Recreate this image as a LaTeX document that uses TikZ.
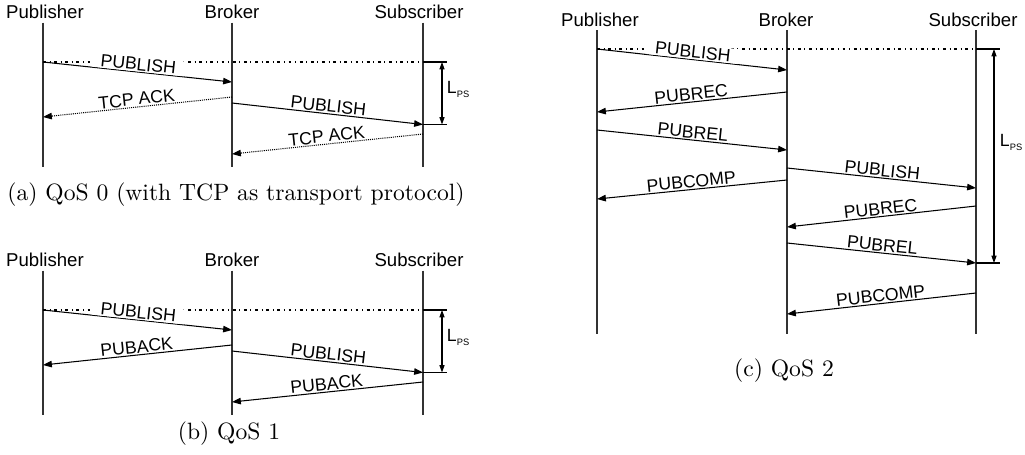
\documentclass[tikz,border=0pt]{standalone}
\usepackage{fontspec}
\newfontfamily\arialf{Liberation Sans}
\usetikzlibrary{arrows.meta}
\tikzset{
  life/.style={line width=0.45pt, black!80},
  msg/.style={line width=0.45pt, -{Triangle[length=3.8pt,width=2.8pt]}},
  ackmsg/.style={msg, dash pattern=on 0.45pt off 0.45pt},
  lbl/.style={font=\arialf\fontsize{7.6}{8}\selectfont, inner sep=0.5pt},
  firstlbl/.style={lbl, fill=white, inner xsep=3.5pt, inner ysep=0.5pt},
  role/.style={font=\arialf\fontsize{8}{9}\selectfont, anchor=base, inner sep=0pt},
  refline/.style={line width=0.45pt, dash pattern=on 1.2pt off 1.6pt on 0.4pt off 1.6pt},
  tickline/.style={line width=0.45pt},
  lat/.style={line width=0.45pt, {Triangle[length=3.2pt,width=2.2pt]}-{Triangle[length=3.2pt,width=2.2pt]}},
  captext/.style={font=\fontsize{10.15}{12}\selectfont, inner sep=0pt},
  lps/.style={font=\arialf\fontsize{7.6}{8}\selectfont, inner sep=0pt, anchor=base west}
}
\newcommand\lpstext{L\raisebox{-2pt}{\fontsize{4}{4}\selectfont PS}}
\newcommand\qospanel[4]{%
\begin{scope}[shift={(0,-#2)}]
 \node[role] (#1P) at (45,-18.5) {Publisher};
 \node[role] (#1B) at (232,-18.5) {Broker};
 \node[role] (#1S) at (419,-18.5) {Subscriber};
 \coordinate (#1Pt) at (43,-22.5); \coordinate (#1Pb) at (43,-167);
 \coordinate (#1Bt) at (232,-22.5); \coordinate (#1Bb) at (232,-167);
 \coordinate (#1St) at (423,-22.5); \coordinate (#1Sb) at (423,-167);
 \draw[life] (#1Pt) -- (#1Pb);
 \draw[life] (#1Bt) -- (#1Bb);
 \draw[life] (#1St) -- (#1Sb);
 \coordinate (#1m1s) at (43,-62);   \coordinate (#1m1e) at (232,-82);
 \coordinate (#1m2s) at (232,-97);  \coordinate (#1m2e) at (43,-117);
 \coordinate (#1m3s) at (232,-103); \coordinate (#1m3e) at (423,-124.5);
 \coordinate (#1m4s) at (423,-134); \coordinate (#1m4e) at (232,-154);
 \coordinate (#1ref) at (423,-62);  \coordinate (#1t1) at (447,-62);
 \coordinate (#1t2) at (447,-124.5);
 \coordinate (#1lt) at (442,-62);   \coordinate (#1lb) at (442,-124.5);
 \draw[refline] (#1m1s) -- (#1ref);
 \draw[tickline] (#1ref) -- (#1t1);
 \draw[tickline] (#1m3e) -- (#1t2);
 \draw[lat] (#1lt) -- (#1lb);
 \node[lps] (#1L) at (446.5,-93) {\lpstext};
 \draw[msg] (#1m1s) -- node[firstlbl, sloped, above] (#1l1) {PUBLISH} (#1m1e);
 \draw[#4] (#1m2s) -- node[lbl, sloped, above] (#1l2) {#3} (#1m2e);
 \draw[msg] (#1m3s) -- node[lbl, sloped, above] (#1l3) {PUBLISH} (#1m3e);
 \draw[#4] (#1m4s) -- node[lbl, sloped, above] (#1l4) {#3} (#1m4e);
\end{scope}}
\begin{document}
\begin{tikzpicture}[x=0.43pt,y=0.43pt]
\useasboundingbox (0,0) rectangle (1025,-454);
\qospanel{a}{0}{TCP ACK}{ackmsg}
\qospanel{b}{248}{PUBACK}{msg}
\node[captext] (capa) at (236,-195) {(a) QoS 0 (with TCP as transport protocol)};
\node[captext] (capb) at (229,-434) {(b) QoS 1};
% panel c
\node[role] (cP) at (600,-26) {Publisher};
\node[role] (cB) at (786,-26) {Broker};
\node[role] (cS) at (973,-26) {Subscriber};
\coordinate (cPt) at (597,-30); \coordinate (cPb) at (597,-334);
\coordinate (cBt) at (787,-30); \coordinate (cBb) at (787,-334);
\coordinate (cSt) at (976,-30); \coordinate (cSb) at (976,-334);
\draw[life] (cPt) -- (cPb);
\draw[life] (cBt) -- (cBb);
\draw[life] (cSt) -- (cSb);
\coordinate (c1s) at (597,-49);  \coordinate (c1e) at (787,-70);
\coordinate (c2s) at (787,-92);  \coordinate (c2e) at (597,-112);
\coordinate (c3s) at (597,-130); \coordinate (c3e) at (787,-150);
\coordinate (c4s) at (787,-168); \coordinate (c4e) at (976,-188);
\coordinate (c5s) at (787,-180); \coordinate (c5e) at (597,-199);
\coordinate (c6s) at (976,-206); \coordinate (c6e) at (787,-227);
\coordinate (c7s) at (787,-243); \coordinate (c7e) at (976,-263);
\coordinate (c8s) at (976,-293); \coordinate (c8e) at (787,-314);
\coordinate (cref) at (976,-49); \coordinate (ct1) at (1000,-49);
\coordinate (ct2) at (1000,-263);
\coordinate (clt) at (994,-49); \coordinate (clb) at (994,-263);
\draw[refline] (c1s) -- (cref);
\draw[tickline] (cref) -- (ct1);
\draw[tickline] (c7e) -- (ct2);
\draw[lat] (clt) -- (clb);
\node[lps] (cL) at (999.5,-146) {\lpstext};
\draw[msg] (c1s) -- node[firstlbl, sloped, above] (cl1) {PUBLISH} (c1e);
\draw[msg] (c2s) -- node[lbl, sloped, above] (cl2) {PUBREC} (c2e);
\draw[msg] (c3s) -- node[lbl, sloped, above] (cl3) {PUBREL} (c3e);
\draw[msg] (c4s) -- node[lbl, sloped, above] (cl4) {PUBLISH} (c4e);
\draw[msg] (c5s) -- node[lbl, sloped, above] (cl5) {PUBCOMP} (c5e);
\draw[msg] (c6s) -- node[lbl, sloped, above] (cl6) {PUBREC} (c6e);
\draw[msg] (c7s) -- node[lbl, sloped, above] (cl7) {PUBREL} (c7e);
\draw[msg] (c8s) -- node[lbl, sloped, above] (cl8) {PUBCOMP} (c8e);
\node[captext] (capc) at (784,-371) {(c) QoS 2};
\end{tikzpicture}
\end{document}
